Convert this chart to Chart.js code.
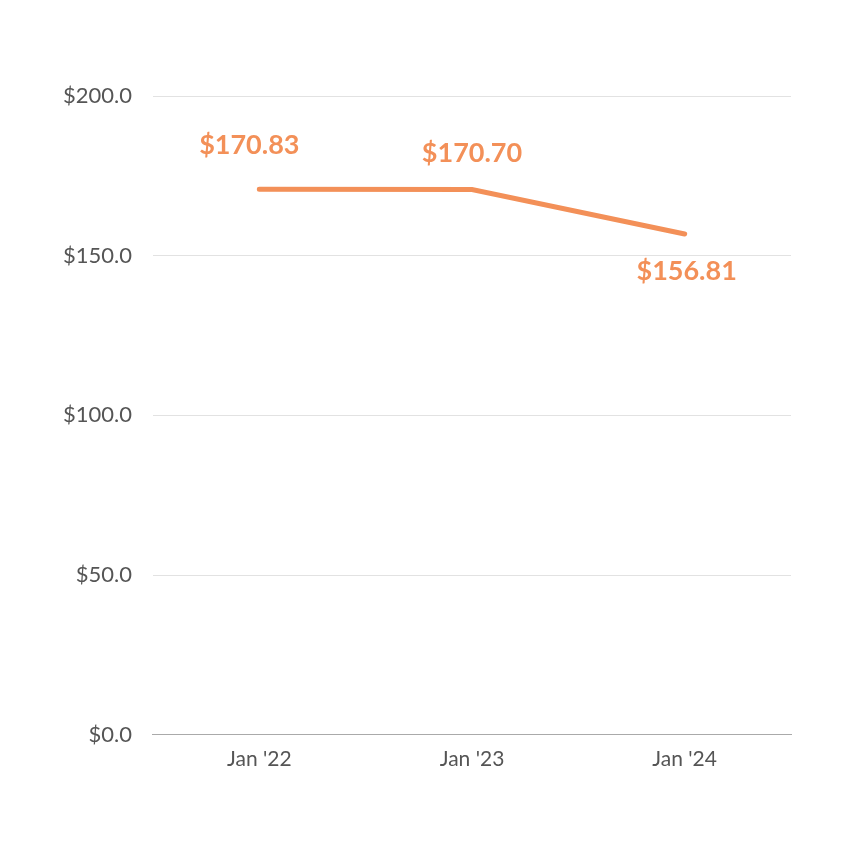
<!DOCTYPE html>
<html lang="en">
<head>
    <meta charset="UTF-8">
    <title>Price per period</title>
    <style>
        html, body {
            margin: 0;
            padding: 0;
            background: #ffffff;
        }
        #wrap {
            width: 851px;
            height: 851px;
        }
    </style>
    <script src="https://cdn.jsdelivr.net/npm/chart.js"></script>
</head>
<body>

    <div id="wrap">
        <canvas id="priceChart" width="851" height="851"></canvas>
    </div>

    <script>
        const categories = ["Jan '22", "Jan '23", "Jan '24"];
        const prices = [170.83, 170.70, 156.81];
        const yTicks = [0, 50, 100, 150, 200];

        const orange = '#f39058';
        const fontFamily = "'Gill Sans', 'Lato', sans-serif";

        // value labels drawn next to each point, offsets come from plugin options
        const pointLabels = {
            id: 'pointLabels',
            afterDatasetsDraw(chart, args, opts) {
                const ctx = chart.ctx;
                const meta = chart.getDatasetMeta(0);
                ctx.save();
                ctx.font = "bold 27px " + fontFamily;
                ctx.fillStyle = orange;
                ctx.textAlign = 'center';
                ctx.textBaseline = 'middle';
                meta.data.forEach((pt, i) => {
                    const txt = '$' + prices[i].toFixed(2);
                    const off = opts.offsets[i] || [0, -40];
                    ctx.fillText(txt, pt.x + off[0], pt.y + off[1]);
                });
                ctx.restore();
            }
        };

        const ctx = document.getElementById('priceChart').getContext('2d');
        new Chart(ctx, {
            type: 'line',
            data: {
                labels: categories,
                datasets: [{
                    data: prices,
                    borderColor: orange,
                    borderWidth: 5,
                    borderCapStyle: 'round',
                    pointRadius: 0,
                    tension: 0,
                    fill: false
                }]
            },
            options: {
                responsive: false,
                animation: false,
                layout: {
                    padding: { top: 96, right: 60, bottom: 67, left: 42 }
                },
                plugins: {
                    legend: { display: false },
                    tooltip: { enabled: false },
                    pointLabels: {
                        offsets: [[-10, -44], [0, -36], [2, 37]]
                    }
                },
                scales: {
                    x: {
                        offset: true,
                        grid: { display: false, drawTicks: false },
                        border: { display: true, color: '#aaaaaa', width: 1 },
                        ticks: {
                            color: '#555555',
                            padding: 12,
                            font: { family: fontFamily, size: 21 }
                        }
                    },
                    y: {
                        min: 0,
                        max: 200,
                        afterBuildTicks(axis) {
                            axis.ticks = yTicks.map(v => ({ value: v }));
                        },
                        grid: { color: '#e2e2e2', lineWidth: 1, drawTicks: false },
                        border: { display: false },
                        ticks: {
                            color: '#555555',
                            padding: 21,
                            font: { family: fontFamily, size: 22 },
                            callback: v => '$' + Number(v).toFixed(1)
                        }
                    }
                }
            },
            plugins: [pointLabels]
        });
    </script>

</body>
</html>
